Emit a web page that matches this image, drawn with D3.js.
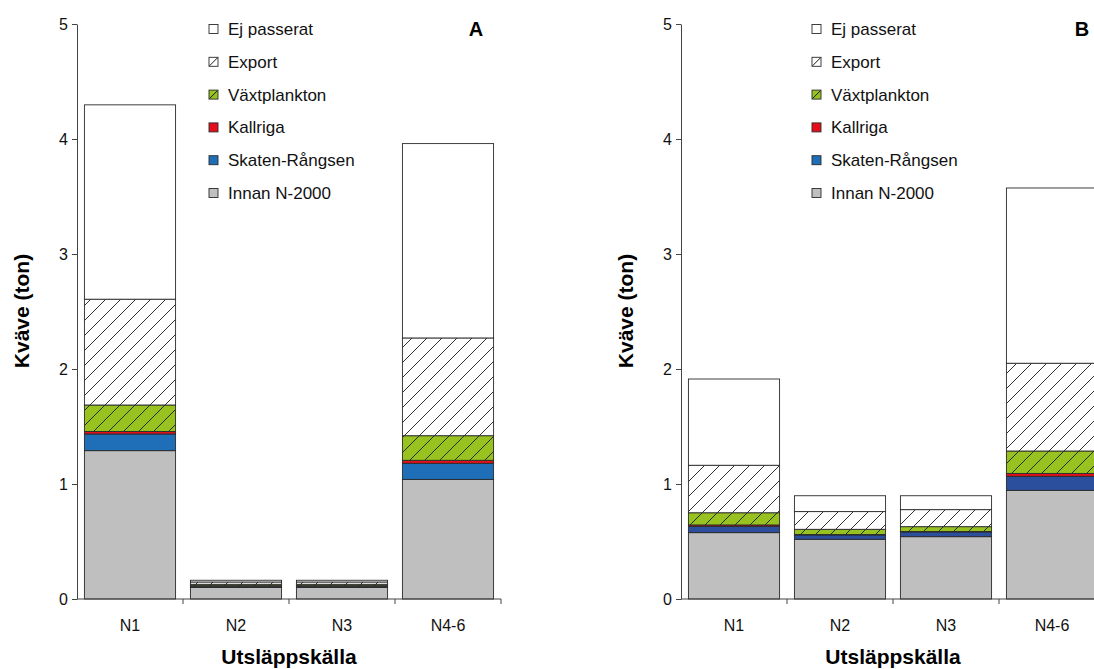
<!DOCTYPE html>
<html>
<head>
<meta charset="utf-8">
<script src="https://cdn.jsdelivr.net/npm/d3@7"></script>
<style>
  body { margin: 0; background: #fff; }
  svg { display: block; font-family: "Liberation Sans", Arial, sans-serif; }
</style>
</head>
<body>
<div id="chart"></div>
<script>
// categories and series
const categories = ["N1", "N2", "N3", "N4-6"];
const seriesNames = ["Innan N-2000", "Skaten-Rångsen", "Kallriga", "Växtplankton", "Export", "Ej passerat"];
const yTicks = [0, 1, 2, 3, 4, 5];

// panel A values (ton)
const innanA    = [1.29, 0.100, 0.100, 1.04];
const skatenA   = [0.145, 0.012, 0.012, 0.14];
const kallrigaA = [0.022, 0.004, 0.004, 0.026];
const vaxtA     = [0.23, 0.012, 0.012, 0.214];
const exportA   = [0.92, 0.020, 0.020, 0.85];
const ejA       = [1.69, 0.015, 0.015, 1.69];

// panel B values (ton)
const innanB    = [0.577, 0.519, 0.542, 0.945];
const skatenB   = [0.055, 0.038, 0.041, 0.122];
const kallrigaB = [0.012, 0.004, 0.004, 0.025];
const vaxtB     = [0.106, 0.045, 0.042, 0.195];
const exportB   = [0.413, 0.154, 0.148, 0.763];
const ejB       = [0.75, 0.138, 0.121, 1.524];

const W = 1094, H = 669;

const svg = d3.select("#chart")
    .append("svg")
    .attr("width", W)
    .attr("height", H);

// hatch patterns
const defs = svg.append("defs");
function hatch(id, bg) {
    const p = defs.append("pattern")
        .attr("id", id)
        .attr("patternUnits", "userSpaceOnUse")
        .attr("width", 15)
        .attr("height", 15);
    p.append("rect").attr("width", 15).attr("height", 15).attr("fill", bg);
    p.append("path")
        .attr("d", "M-2,2 L2,-2 M0,15 L15,0 M13,17 L17,13")
        .attr("stroke", "#1a1a1a")
        .attr("stroke-width", 0.9);
}
hatch("hatchWhite", "#fff");
hatch("hatchGreen", "#98c21f");

function drawPanel(opts) {
    const g = svg.append("g");

    const y = d3.scaleLinear().domain([0, 5]).range([599, 24]);
    const x = d3.scaleBand()
        .domain(categories)
        .range([opts.x0, opts.x0 + 424])
        .paddingInner(0.14)
        .paddingOuter(0.07);
    const step = x.step();

    const fills = ["#bfbfbf", opts.blue, "#e3101b", "url(#hatchGreen)", "url(#hatchWhite)", "#fff"];
    const values = opts.values;

    // stack the layers
    const rows = categories.map((c, i) => {
        const r = { cat: c };
        seriesNames.forEach((s, k) => r[s] = values[k][i]);
        return r;
    });
    const stacked = d3.stack().keys(seriesNames)(rows);

    stacked.forEach((layer, k) => {
        g.selectAll(null)
            .data(layer)
            .enter()
            .append("rect")
            .attr("x", d => x(d.data.cat))
            .attr("y", d => y(d[1]))
            .attr("width", x.bandwidth())
            .attr("height", d => y(d[0]) - y(d[1]))
            .attr("fill", fills[k])
            .attr("stroke", "#2a2a2a")
            .attr("stroke-width", 0.9);
    });

    // y axis
    const yAxis = g.append("g")
        .attr("transform", `translate(${opts.x0},0)`)
        .call(d3.axisLeft(y).tickValues(yTicks).tickFormat(d3.format("d")).tickSize(5).tickSizeOuter(0));
    yAxis.select(".domain").attr("stroke", "#444");
    yAxis.selectAll(".tick line").attr("stroke", "#444");
    yAxis.selectAll(".tick text")
        .attr("x", -9)
        .style("font-size", "16px")
        .attr("fill", "#111");

    // x axis: line, ticks at band boundaries, labels at centres
    g.append("line")
        .attr("x1", opts.x0).attr("x2", opts.x0 + 424)
        .attr("y1", y(0)).attr("y2", y(0))
        .attr("stroke", "#444");
    categories.forEach((c, i) => {
        const bx = x(c) + x.bandwidth() + step * 0.07;
        g.append("line")
            .attr("x1", bx).attr("x2", bx)
            .attr("y1", y(0)).attr("y2", y(0) + 5)
            .attr("stroke", "#444");
        g.append("text")
            .attr("x", x(c) + x.bandwidth() / 2)
            .attr("y", 631)
            .attr("text-anchor", "middle")
            .style("font-size", "16px")
            .attr("fill", "#111")
            .text(c);
    });

    // axis titles
    g.append("text")
        .attr("x", opts.x0 + 212)
        .attr("y", 664)
        .attr("text-anchor", "middle")
        .style("font-size", "21px")
        .style("font-weight", "bold")
        .text("Utsläppskälla");

    g.append("text")
        .attr("transform", `translate(${opts.x0 - 48},311) rotate(-90)`)
        .attr("text-anchor", "middle")
        .style("font-size", "21px")
        .style("font-weight", "bold")
        .text("Kväve (ton)");

    // panel letter
    g.append("text")
        .attr("x", opts.letterX)
        .attr("y", 36)
        .attr("text-anchor", "middle")
        .style("font-size", "20px")
        .style("font-weight", "bold")
        .text(opts.letter);

    // legend, top entry first
    const legFills = ["#fff", "#fff", "#98c21f", "#e3101b", "#1f6fb8", "#bfbfbf"];
    const legNames = seriesNames.slice().reverse();
    legNames.forEach((name, i) => {
        const ly = 29 + i * 32.8;
        const lg = g.append("g").attr("transform", `translate(${opts.legX},${ly})`);
        lg.append("rect")
            .attr("x", 0).attr("y", -4.5)
            .attr("width", 9).attr("height", 9)
            .attr("fill", legFills[i])
            .attr("stroke", "#2a2a2a")
            .attr("stroke-width", 0.9);
        if (name === "Export" || name === "Växtplankton") {
            lg.append("line")
                .attr("x1", 0.5).attr("y1", 4)
                .attr("x2", 8.5).attr("y2", -4)
                .attr("stroke", "#1a1a1a")
                .attr("stroke-width", 1);
        }
        lg.append("text")
            .attr("x", 19)
            .attr("y", 6)
            .style("font-size", "17px")
            .attr("fill", "#111")
            .text(name);
    });
}

drawPanel({
    x0: 77,
    letter: "A",
    letterX: 476,
    legX: 209,
    blue: "#1f6fb8",
    values: [innanA, skatenA, kallrigaA, vaxtA, exportA, ejA]
});

drawPanel({
    x0: 681,
    letter: "B",
    letterX: 1082,
    legX: 812,
    blue: "#2b4f9c",
    values: [innanB, skatenB, kallrigaB, vaxtB, exportB, ejB]
});
</script>
</body>
</html>
